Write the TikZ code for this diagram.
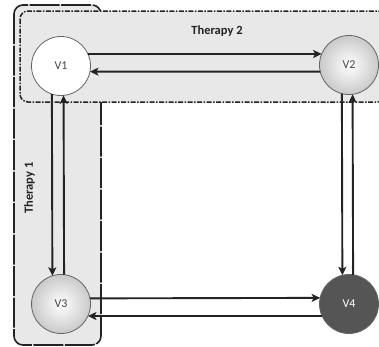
\documentclass[tikz,border=0pt]{standalone}
\usepackage{fontspec}
\setmainfont{Carlito}
\usetikzlibrary{arrows.meta}
\definecolor{boxfill}{RGB}{232,232,232}
\definecolor{linecol}{RGB}{35,35,35}
\definecolor{nodeedge}{RGB}{100,100,100}
\definecolor{darknode}{RGB}{85,85,85}
\definecolor{labelcol}{RGB}{70,70,70}
\begin{document}
\begin{tikzpicture}[x=1pt,y=-1pt,
  vnode/.style={circle,draw=nodeedge,line width=0.8pt,minimum size=59pt,inner sep=0pt,outer sep=0pt,
    font=\fontsize{12}{14}\selectfont,text=labelcol},
  plainnode/.style={vnode,fill=white},
  shadenode/.style={vnode,shading=radial,inner color=white,outer color=gray!42},
  darkvnode/.style={vnode,fill=darknode,text=white},
  arr/.style={draw=linecol,line width=1.9pt,-{Stealth[length=8.5pt,width=8pt,inset=2pt]}},
  groupone/.style={draw=linecol,fill=boxfill,line width=1.6pt,rounded corners=9pt,dash pattern=on 30pt off 1.5pt},
  grouptwo/.style={draw=linecol,fill=boxfill,line width=1.5pt,rounded corners=8pt,dash pattern=on 5pt off 1.5pt on 1.5pt off 1.5pt},
  grouplabel/.style={font=\bfseries\fontsize{12.5}{14}\selectfont,text=linecol,inner sep=0pt}]
\useasboundingbox (0,0) rectangle (379,346);
\clip (0,0) rectangle (379,346);
% group boxes
\path[groupone] (14,5) rectangle (101,345);
\path[grouptwo] (20,11) rectangle (386,102);
\node[grouplabel] (t2) at (217,31.5) {Therapy 2};
\node[grouplabel,rotate=90] (t1) at (29.5,188) {Therapy 1};
% nodes
\node[plainnode] (V1) at (61,66) {V1};
\node[shadenode] (V2) at (349,65) {V2};
\node[shadenode] (V3) at (61,304) {V3};
\node[darkvnode] (V4) at (349,304) {V4};
% connectors
\draw[arr] (V1.24) -- (V2.158.1);
\draw[arr] (V2.193.7) -- (V1.-11.7);
\draw[arr] (V1.252.2) -- (V3.107.8);
\draw[arr] (V3.84.2) -- (V1.275.8);
\draw[arr] (V2.256.3) -- (V4.103.7);
\draw[arr] (V4.82.2) -- (V2.277.8);
\draw[arr] (V3.11.7) -- (V4.168.3);
\draw[arr] (V4.204) -- (V3.-24);
\end{tikzpicture}
\end{document}
